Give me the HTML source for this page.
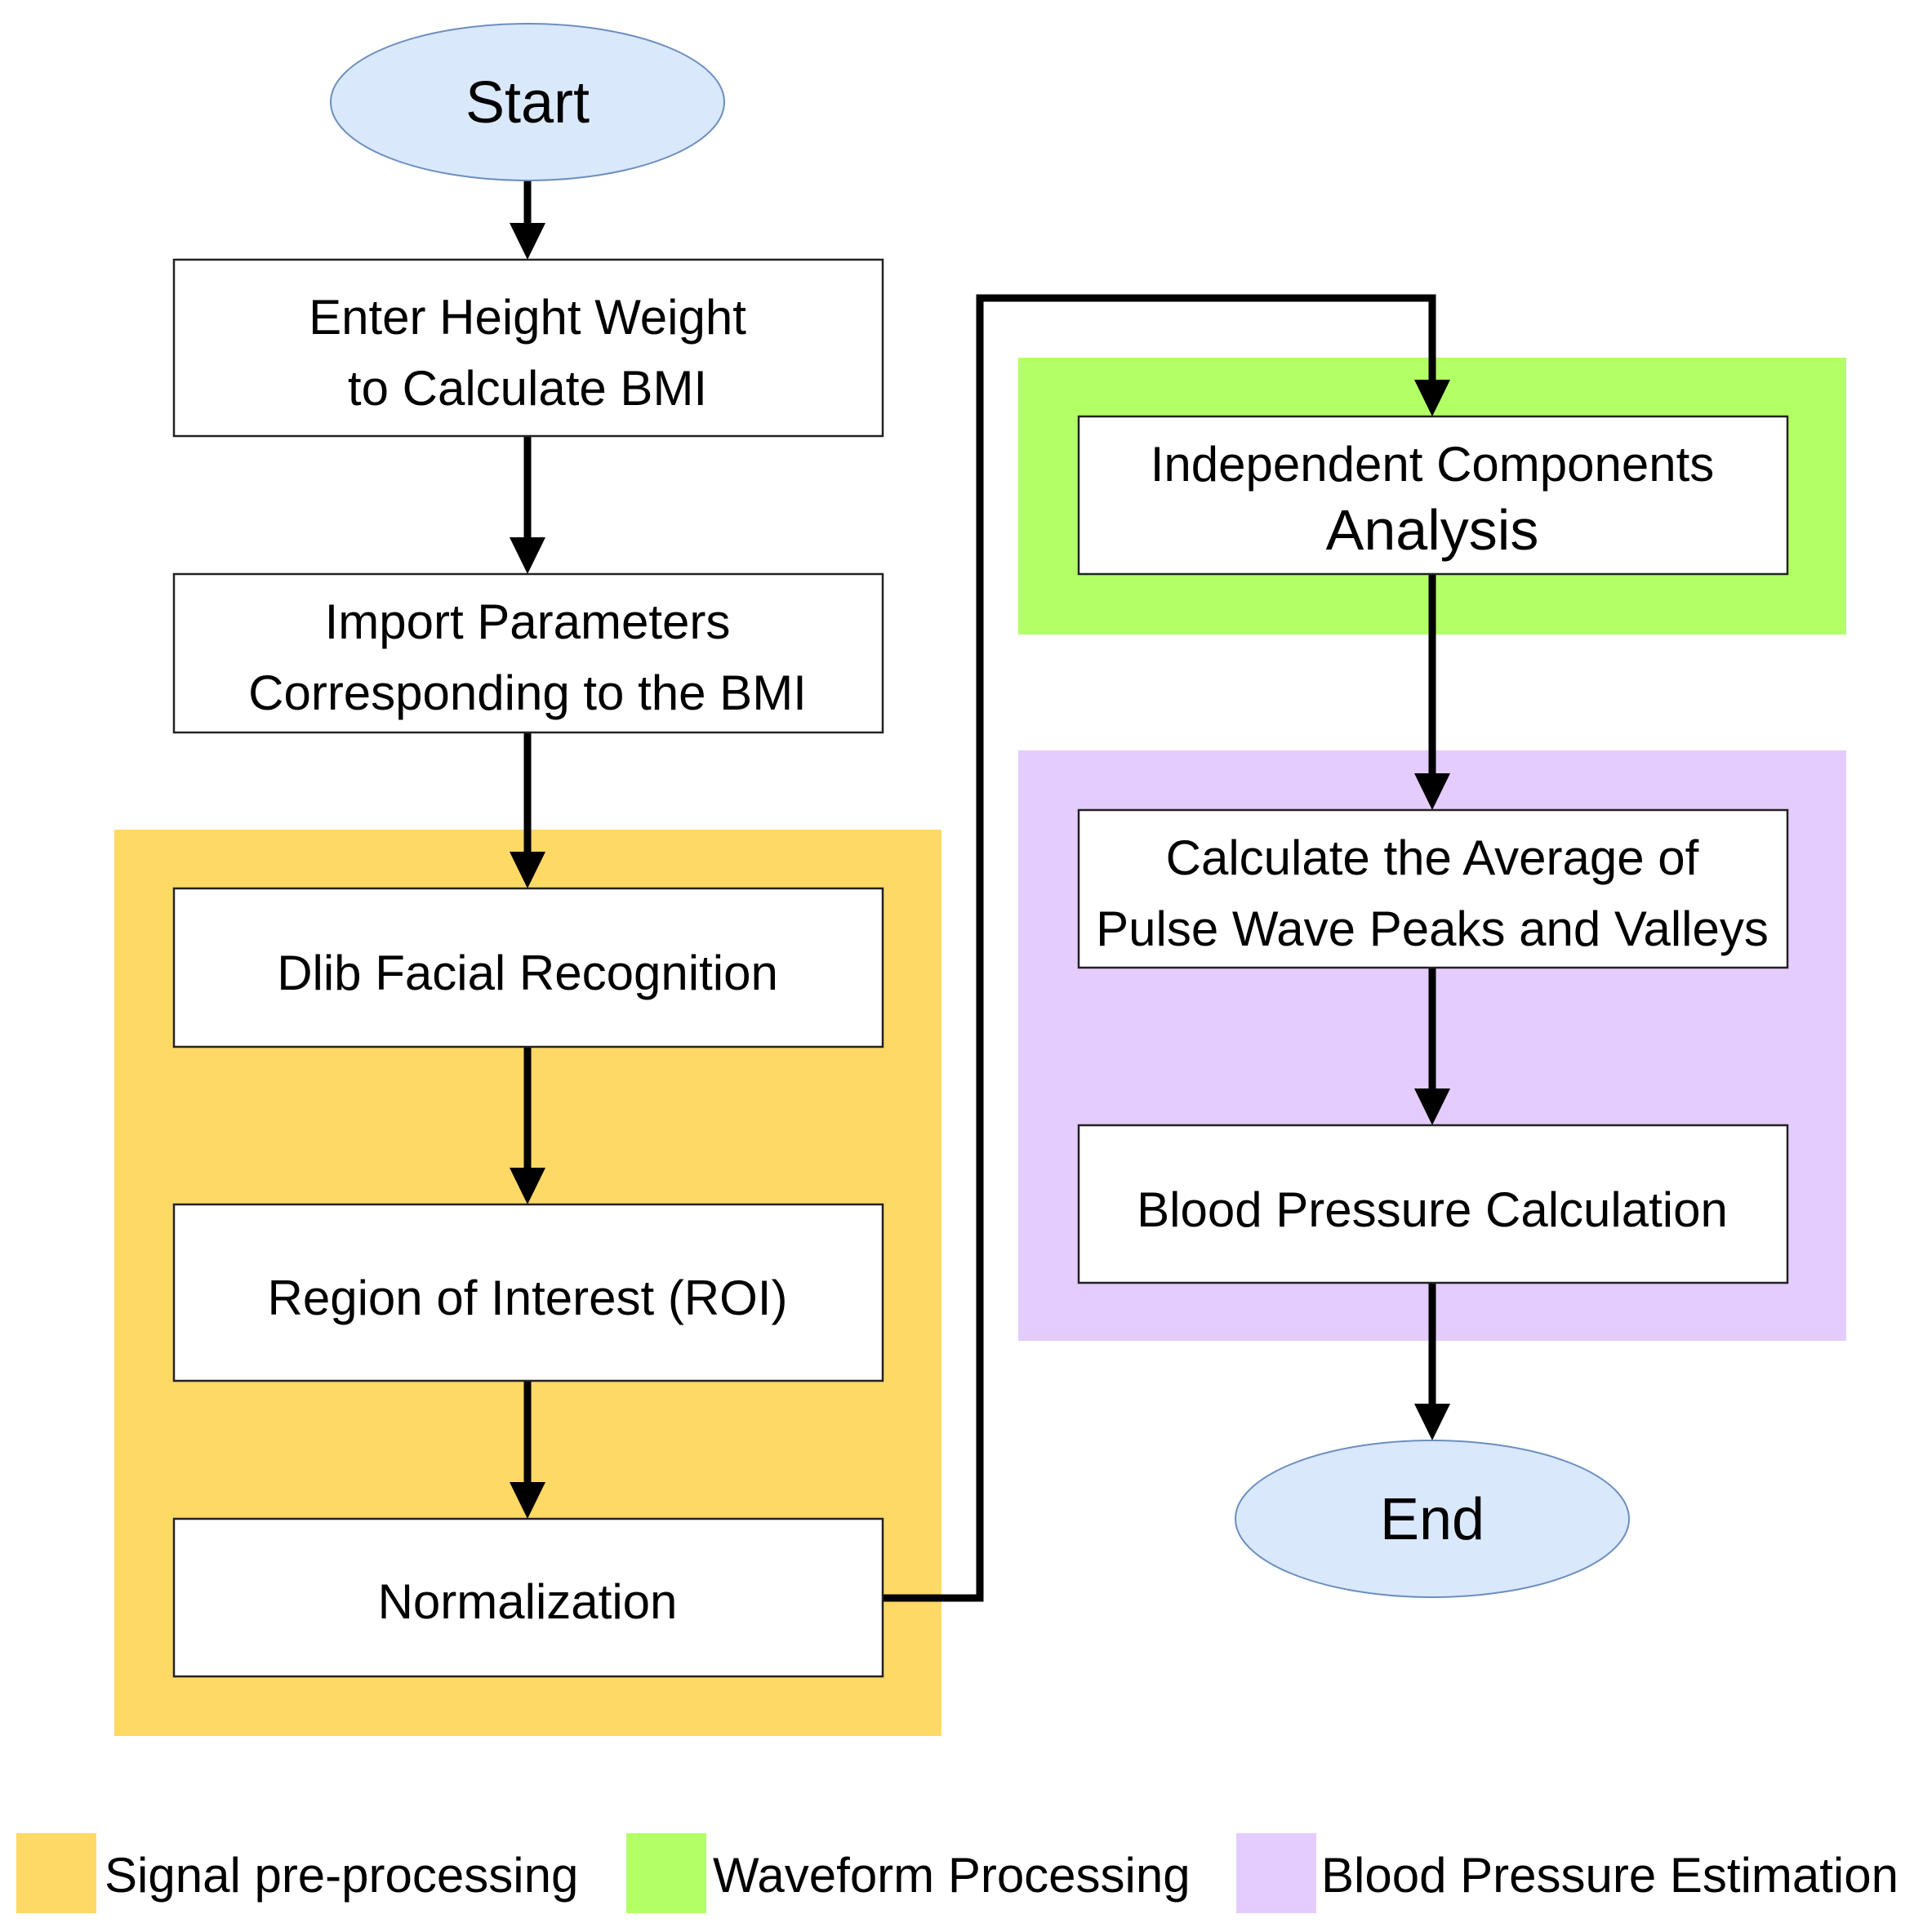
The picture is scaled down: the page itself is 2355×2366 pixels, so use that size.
<!DOCTYPE html>
<html><head><meta charset="utf-8"><style>
html,body{margin:0;padding:0;background:#fff}
svg{display:block}
text{font-family:"Liberation Sans",Arial,sans-serif;fill:#000}
</style></head><body>
<svg width="2355" height="2366" viewBox="0 0 2355 2366" xmlns="http://www.w3.org/2000/svg">
<!-- backgrounds -->
<rect x="140" y="1016" width="1013" height="1110" fill="#FFD966"/>
<rect x="1247" y="438" width="1014" height="339" fill="#B3FF66"/>
<rect x="1247" y="919" width="1014" height="723" fill="#E5CCFF"/>

<!-- connectors -->
<g stroke="#000" stroke-width="9" fill="none">
<line x1="646" y1="221" x2="646" y2="280"/>
<line x1="646" y1="534" x2="646" y2="665"/>
<line x1="646" y1="897" x2="646" y2="1050"/>
<line x1="646" y1="1282" x2="646" y2="1437"/>
<line x1="646" y1="1691" x2="646" y2="1822"/>
<polyline points="1081,1957 1200,1957 1200,365 1754,365 1754,472"/>
<line x1="1754" y1="703" x2="1754" y2="954"/>
<line x1="1754" y1="1185" x2="1754" y2="1340"/>
<line x1="1754" y1="1571" x2="1754" y2="1722"/>
</g>
<g fill="#000">
<polygon points="624,273 668,273 646,318"/>
<polygon points="624,658 668,658 646,703"/>
<polygon points="624,1043 668,1043 646,1088"/>
<polygon points="624,1430 668,1430 646,1475"/>
<polygon points="624,1815 668,1815 646,1860"/>
<polygon points="1732,465 1776,465 1754,510"/>
<polygon points="1732,947 1776,947 1754,992"/>
<polygon points="1732,1333 1776,1333 1754,1378"/>
<polygon points="1732,1719 1776,1719 1754,1764"/>
</g>

<!-- start/end -->
<ellipse cx="646" cy="125" rx="241" ry="96" fill="#DAE8FC" stroke="#6C8EBF" stroke-width="2"/>
<text x="646" y="150" font-size="72" text-anchor="middle">Start</text>
<ellipse cx="1754" cy="1860" rx="241" ry="96" fill="#DAE8FC" stroke="#6C8EBF" stroke-width="2"/>
<text x="1754" y="1885" font-size="72" text-anchor="middle">End</text>

<!-- boxes -->
<g fill="#fff" stroke="#222" stroke-width="2.5">
<rect x="213" y="318" width="868" height="216"/>
<rect x="213" y="703" width="868" height="194"/>
<rect x="213" y="1088" width="868" height="194"/>
<rect x="213" y="1475" width="868" height="216"/>
<rect x="213" y="1860" width="868" height="193"/>
<rect x="1321" y="510" width="868" height="193"/>
<rect x="1321" y="992" width="868" height="193"/>
<rect x="1321" y="1378" width="868" height="193"/>
</g>
<g font-size="60" text-anchor="middle">
<text x="646" y="409">Enter Height Weight</text>
<text x="646" y="496">to Calculate BMI</text>
<text x="646" y="782">Import Parameters</text>
<text x="646" y="869">Corresponding to the BMI</text>
<text x="646" y="1212">Dlib Facial Recognition</text>
<text x="646" y="1610">Region of Interest (ROI)</text>
<text x="646" y="1982">Normalization</text>
<text x="1754" y="589">Independent Components</text>
<text x="1754" y="673" font-size="70">Analysis</text>
<text x="1754" y="1071">Calculate the Average of</text>
<text x="1754" y="1158">Pulse Wave Peaks and Valleys</text>
<text x="1754" y="1502">Blood Pressure Calculation</text>
</g>

<!-- legend -->
<rect x="20" y="2245" width="98" height="98" fill="#FFD966"/>
<rect x="767" y="2245" width="98" height="98" fill="#B3FF66"/>
<rect x="1514" y="2245" width="98" height="98" fill="#E5CCFF"/>
<g font-size="60">
<text x="128" y="2317">Signal pre-processing</text>
<text x="873" y="2317">Waveform Processing</text>
<text x="1618" y="2317">Blood Pressure Estimation</text>
</g>
</svg>
</body></html>
